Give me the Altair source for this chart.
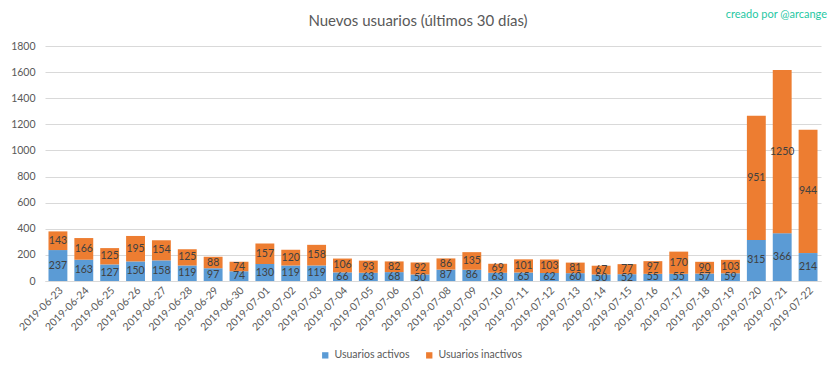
import altair as alt
import pandas as pd

dates = ["2019-06-23","2019-06-24","2019-06-25","2019-06-26","2019-06-27","2019-06-28","2019-06-29","2019-06-30",
         "2019-07-01","2019-07-02","2019-07-03","2019-07-04","2019-07-05","2019-07-06","2019-07-07","2019-07-08",
         "2019-07-09","2019-07-10","2019-07-11","2019-07-12","2019-07-13","2019-07-14","2019-07-15","2019-07-16",
         "2019-07-17","2019-07-18","2019-07-19","2019-07-20","2019-07-21","2019-07-22"]
activos = [237,163,127,150,158,119,97,74,130,119,119,66,63,68,50,87,86,63,65,62,60,50,52,55,55,57,59,315,366,214]
inactivos = [143,166,125,195,154,125,88,74,157,120,158,106,93,82,92,86,135,69,101,103,81,67,77,97,170,90,103,951,1250,944]
series = ["Usuarios activos", "Usuarios inactivos"]
colors = ["#5B9BD5", "#ED7D31"]
y_ticks = [0, 200, 400, 600, 800, 1000, 1200, 1400, 1600, 1800]
title_text = "Nuevos usuarios (últimos 30 días)"
credit_text = "creado por @arcange"

FONT = "Lato"

rows = []
for d, a, i in zip(dates, activos, inactivos):
    rows.append({"date": d, "serie": series[0], "idx": 0, "value": a, "mid": a / 2})
    rows.append({"date": d, "serie": series[1], "idx": 1, "value": i, "mid": a + i / 2})
df = pd.DataFrame(rows)

xenc = alt.X("date:N", sort=None,
             scale=alt.Scale(paddingInner=0.27, paddingOuter=0.135),
             axis=alt.Axis(title=None, labelAngle=315, ticks=False, domainColor="#d9d9d9",
                           labelColor="#595959", labelFont=FONT, labelFontSize=10.5, labelPadding=4))

yaxis = alt.Axis(values=y_ticks, title=None, ticks=False, domain=False, format="d",
                 labelOverlap=False, gridColor="#d9d9d9", labelColor="#595959", labelFont=FONT,
                 labelFontSize=10.5, labelPadding=10)
yscale = alt.Scale(domain=[0, 1800], nice=False)

base = alt.Chart(df)

bars = base.mark_bar().encode(
    x=xenc,
    y=alt.Y("value:Q", stack="zero", scale=yscale, axis=yaxis),
    color=alt.Color("serie:N", scale=alt.Scale(domain=series, range=colors),
                    legend=alt.Legend(title=None, orient="none", direction="horizontal",
                                      legendX=275, legendY=304, symbolType="square", symbolSize=40,
                                      labelFont=FONT, labelFontSize=10.5, labelColor="#595959",
                                      columnPadding=14, padding=0, symbolStrokeWidth=0)),
    order=alt.Order("idx:Q"),
)

labels = base.mark_text(font=FONT, fontSize=10.5, color="#404040", baseline="middle").encode(
    x=xenc,
    y=alt.Y("mid:Q", stack=None, scale=yscale, axis=yaxis),
    text="value:Q",
)

title = alt.Chart(pd.DataFrame({"t": [title_text]})).mark_text(
    font=FONT, fontSize=15, color="#595959", align="center", baseline="middle"
).encode(text="t:N", x=alt.value(373), y=alt.value(-25))

credit = alt.Chart(pd.DataFrame({"t": [credit_text]})).mark_text(
    font=FONT, fontSize=11, color="#1fc7a3", align="right", baseline="middle"
).encode(text="t:N", x=alt.value(782), y=alt.value(-31))

chart = alt.layer(bars, labels, title, credit).properties(
    width=776, height=235,
    autosize=alt.AutoSizeParams(type="none"),
    padding={"left": 37, "top": 38, "right": 7, "bottom": 90},
    background="white",
).configure_view(stroke=None)

chart.save("out.html", embed_options={"renderer": "svg", "actions": False})
